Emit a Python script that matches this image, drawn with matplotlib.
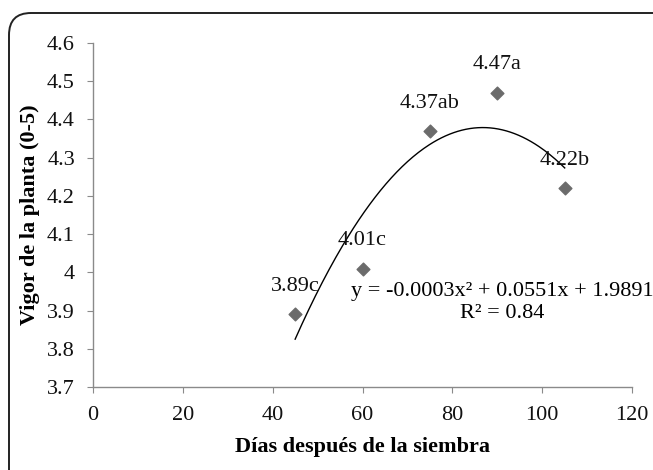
import numpy as np
import matplotlib
matplotlib.use("Agg")
import matplotlib.pyplot as plt
from matplotlib.path import Path
from matplotlib.patches import PathPatch

dias = [45, 60, 75, 90, 105]
vigor = [3.89, 4.01, 4.37, 4.47, 4.22]
etiquetas = ["3.89c", "4.01c", "4.37ab", "4.47a", "4.22b"]
ecuacion = "y = -0.0003x² + 0.0551x + 1.9891"
r2_texto = "R² = 0.84"

plt.rcParams["font.family"] = ["Liberation Serif", "DejaVu Serif"]

fig = plt.figure(figsize=(6.53, 4.70), dpi=100)
ax = fig.add_axes([0.1424, 0.1766, 0.8256, 0.7319])

# rounded frame around the chart: only the left and top sides fall inside the image
x0, y0 = 9 / 653, 1 - 13 / 470
rx, ry = 22 / 653, 22 / 470
verts = [(x0, -0.05), (x0, y0 - ry), (x0, y0), (x0 + rx, y0), (1.05, y0)]
codes = [Path.MOVETO, Path.LINETO, Path.CURVE3, Path.CURVE3, Path.LINETO]
frame = PathPatch(Path(verts, codes), transform=fig.transFigure, fill=False,
                  edgecolor="#222222", linewidth=1.4)
fig.patches.append(frame)

ax.scatter(dias, vigor, marker="D", s=42, color="#6b6b6b", zorder=3)

# quadratic trend line
coef = np.polyfit(dias, vigor, 2)
xs = np.linspace(min(dias), max(dias), 200)
ax.plot(xs, np.polyval(coef, xs), color="black", linewidth=1.0, zorder=2)

for x, y, t in zip(dias, vigor, etiquetas):
    ax.annotate(t, (x, y), xytext=(0, 20), textcoords="offset points",
                ha="center", va="center", fontsize=16, color="#111111")

fig.text(0.769, 0.379, ecuacion, ha="center", va="center", fontsize=16)
fig.text(0.769, 0.334, r2_texto, ha="center", va="center", fontsize=16)

ax.set_xlim(0, 120)
ax.set_ylim(3.7, 4.6)
ax.set_xticks(np.arange(0, 121, 20))
ax.set_yticks(np.arange(3.7, 4.61, 0.1))
ax.set_yticklabels(["3.7", "3.8", "3.9", "4", "4.1", "4.2", "4.3", "4.4", "4.5", "4.6"])

for s in ["top", "right"]:
    ax.spines[s].set_visible(False)
for s in ["left", "bottom"]:
    ax.spines[s].set_color("#8a8a8a")
    ax.spines[s].set_linewidth(1.0)
ax.tick_params(axis="both", direction="out", length=4, color="#8a8a8a",
               labelsize=16, labelcolor="#111111")
ax.tick_params(axis="x", pad=10)
ax.tick_params(axis="y", pad=9)

ax.set_xlabel("Días después de la siembra", fontsize=16, fontweight="bold", labelpad=8)
ax.set_ylabel("Vigor de la planta (0-5)", fontsize=16, fontweight="bold", labelpad=5)

fig.savefig("out.png", dpi=100)
